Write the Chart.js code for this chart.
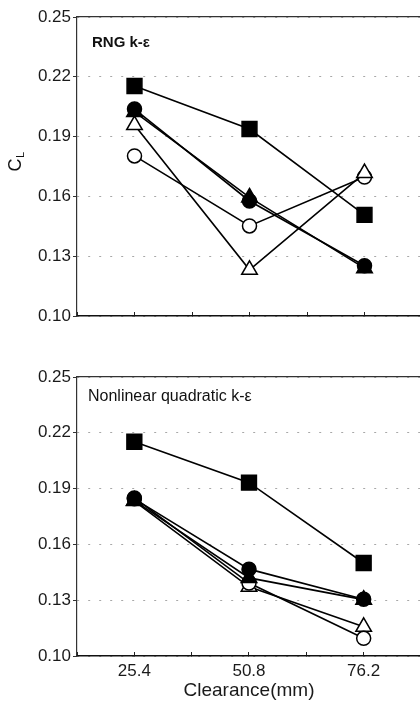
<!DOCTYPE html>
<html>
<head>
<meta charset="utf-8">
<script src="https://cdn.jsdelivr.net/npm/chart.js@4"></script>
<style>
  html, body { margin: 0; padding: 0; background: #fff; }
  body { width: 420px; height: 702px; overflow: hidden; position: relative; }
  .panel { position: absolute; left: 0; }
</style>
</head>
<body>
<div class="panel" style="top:0"><canvas id="rngChart" width="430" height="340"></canvas></div>
<div class="panel" style="top:340px"><canvas id="nlqChart" width="430" height="362"></canvas></div>
<script>
// クリアランス (mm)
const clearance = [25.4, 50.8, 76.2];
const xTicks = [12.7, 25.4, 38.1, 50.8, 63.5, 76.2, 88.9];
const xLabels = ['25.4', '50.8', '76.2'];
const yTicks = [0.10, 0.13, 0.16, 0.19, 0.22, 0.25];

// RNG k-ε
const rngSquare = [0.2154, 0.1938, 0.1507];
const rngCircle = [0.2038, 0.1577, 0.1252];
const rngTriangle = [0.2024, 0.1595, 0.1240];
const rngOpenTriangle = [0.1958, 0.1232, 0.1717];
const rngOpenCircle = [0.1803, 0.1452, 0.1697];

// Nonlinear quadratic k-ε
const nlqSquare = [0.2152, 0.1932, 0.1500];
const nlqCircle = [0.1845, 0.1467, 0.1305];
const nlqTriangle = [0.1835, 0.1420, 0.1303];
const nlqOpenTriangle = [0.1833, 0.1372, 0.1157];
const nlqOpenCircle = [0.1850, 0.1392, 0.1095];

Chart.defaults.font.family = "'Liberation Sans', Arial, sans-serif";
Chart.defaults.color = '#1a1a1a';

function toPoints(values) {
    return clearance.map((x, i) => ({ x: x, y: values[i] }));
}

function series(values, style, filled, order) {
    const radius = { rect: 10.5, circle: 7, triangle: 9 }[style];
    return {
        data: toPoints(values),
        borderColor: '#000',
        borderWidth: 1.6,
        pointStyle: style,
        pointRadius: radius,
        pointBackgroundColor: filled ? '#000' : '#fff',
        pointBorderColor: '#000',
        pointBorderWidth: 1.5,
        order: order,
        clip: false
    };
}

// パネル内の文字 (モデル名、縦軸ラベル)
const panelText = {
    id: 'panelText',
    afterDraw(chart, args, opts) {
        const ctx = chart.ctx;
        ctx.save();
        ctx.fillStyle = '#111';
        ctx.textBaseline = 'middle';
        ctx.font = opts.font;
        ctx.fillText(opts.text, opts.x, opts.y);
        if (opts.yTitle) {
            ctx.translate(opts.yTitle.x, opts.yTitle.y);
            ctx.rotate(-Math.PI / 2);
            ctx.textAlign = 'center';
            ctx.font = "18px 'Liberation Sans', Arial, sans-serif";
            ctx.fillText('C', -3, 0);
            ctx.font = "11px 'Liberation Sans', Arial, sans-serif";
            ctx.fillText('L', 7, 5);
        }
        ctx.restore();
    }
};

function makeChart(id, datasets, opts) {
    const ctx = document.getElementById(id).getContext('2d');
    return new Chart(ctx, {
        type: 'line',
        data: { datasets: datasets },
        plugins: [panelText],
        options: {
            responsive: false,
            animation: false,
            devicePixelRatio: 1,
            layout: {
                autoPadding: false,
                padding: { top: opts.padTop, left: 0, right: 8, bottom: 0 }
            },
            plugins: {
                legend: { display: false },
                tooltip: { enabled: false },
                panelText: opts.text
            },
            scales: {
                x: {
                    type: 'linear',
                    min: 12.7,
                    max: 88.9,
                    afterBuildTicks: scale => { scale.ticks = xTicks.map(v => ({ value: v })); },
                    afterFit: scale => { scale.height = opts.xHeight; },
                    grid: {
                        drawOnChartArea: false,
                        drawTicks: true,
                        tickLength: -4,
                        tickColor: '#222',
                        tickWidth: 1
                    },
                    border: { color: '#111', width: 1.5 },
                    ticks: {
                        display: opts.showXLabels,
                        autoSkip: false,
                        maxRotation: 0,
                        padding: 9,
                        font: { size: 17 },
                        callback: v => {
                            const i = clearance.findIndex(c => Math.abs(c - v) < 0.01);
                            return i >= 0 ? xLabels[i] : '';
                        }
                    },
                    title: {
                        display: opts.showXLabels,
                        text: 'Clearance(mm)',
                        font: { size: 19 },
                        padding: { top: 0, bottom: 0 }
                    }
                },
                xTop: {
                    type: 'linear',
                    position: 'top',
                    min: 12.7,
                    max: 88.9,
                    afterFit: scale => { scale.height = 0; },
                    grid: { display: false },
                    ticks: { display: false },
                    border: { color: '#333', width: 1.2 }
                },
                y: {
                    min: 0.10,
                    max: 0.25,
                    afterBuildTicks: scale => { scale.ticks = yTicks.map(v => ({ value: v })); },
                    afterFit: scale => { scale.width = 77; },
                    grid: {
                        color: '#a8a8a8',
                        lineWidth: 1,
                        drawTicks: true,
                        tickLength: 4,
                        tickColor: '#333',
                        tickBorderDash: []
                    },
                    border: { color: '#333', width: 1.2, dash: [2, 9] },
                    ticks: {
                        padding: 2,
                        font: { size: 17 },
                        callback: v => v.toFixed(2)
                    }
                }
            }
        }
    });
}

makeChart('rngChart', [
    series(rngSquare, 'rect', true, 1),
    series(rngCircle, 'circle', true, 2),
    series(rngTriangle, 'triangle', true, 3),
    series(rngOpenTriangle, 'triangle', false, 4),
    series(rngOpenCircle, 'circle', false, 5)
], {
    padTop: 17,
    xHeight: 24,
    showXLabels: false,
    text: {
        text: 'RNG k-ε',
        font: "bold 15px 'Liberation Sans', Arial, sans-serif",
        x: 92,
        y: 43,
        yTitle: { x: 16, y: 162 }
    }
});

makeChart('nlqChart', [
    series(nlqSquare, 'rect', true, 1),
    series(nlqCircle, 'circle', true, 2),
    series(nlqTriangle, 'triangle', true, 3),
    series(nlqOpenTriangle, 'triangle', false, 5),
    series(nlqOpenCircle, 'circle', false, 4)
], {
    padTop: 37,
    xHeight: 46,
    showXLabels: true,
    text: {
        text: 'Nonlinear quadratic k-ε',
        font: "16px 'Liberation Sans', Arial, sans-serif",
        x: 88,
        y: 57
    }
});
</script>
</body>
</html>
